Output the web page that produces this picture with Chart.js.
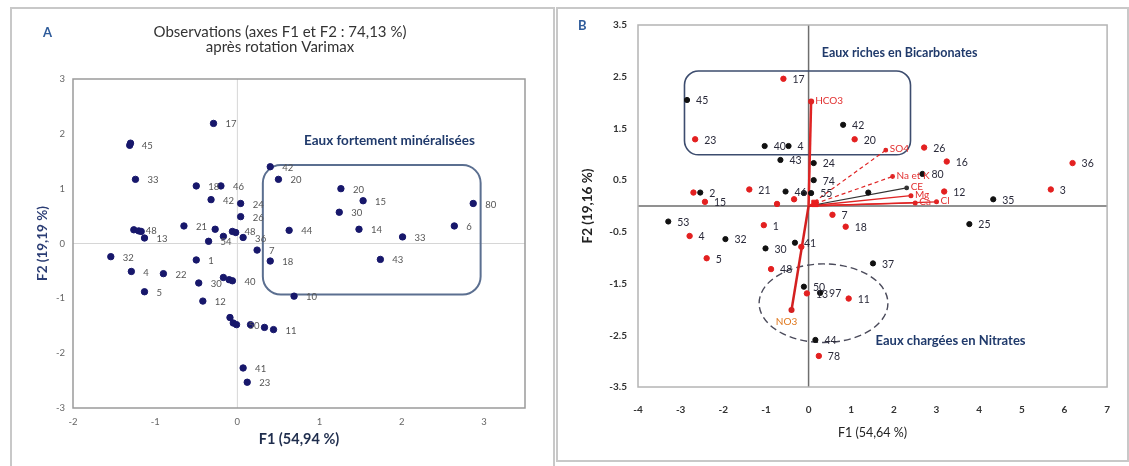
<!DOCTYPE html>
<html><head><meta charset="utf-8">
<script src="https://cdn.jsdelivr.net/npm/chart.js@4"></script>
<style>
html,body{margin:0;padding:0;background:#fff;}
body{width:1129px;height:466px;position:relative;overflow:hidden;font-family:Lato,sans-serif;}
.panel{position:absolute;border:2px solid #c8c8c8;box-sizing:border-box;}
#pA{left:10px;top:7px;width:545px;height:462px;}
#pB{left:556px;top:7px;width:573px;height:455px;}
canvas{position:absolute;}
#cA{left:11px;top:8px;}
#cB{left:557px;top:8px;}
.tag{position:absolute;font:bold 13px Lato,sans-serif;color:#2e5b9a;line-height:14px;}
</style></head>
<body>
<div class="panel" id="pA"></div>
<div class="panel" id="pB"></div>
<canvas id="cA" width="542" height="457"></canvas>
<canvas id="cB" width="570" height="452"></canvas>
<div class="tag" style="left:43px;top:25px;">A</div>
<div class="tag" style="left:578px;top:18px;">B</div>
<script>
// ---------- Panel A : observations after Varimax rotation ----------
const leftLabels = ['17','45','','33','18','46','42','24','26','21','48','','','13','','54','','48','','36','7','42','20','44','18','10','20','15','30','14','33','43','6','80','32','4','22','5','1','30','','','40','12','','','50','','','11','41','23'];
const leftF1 = [-0.29,-1.31,-1.30,-1.24,-0.50,-0.20,-0.32,0.04,0.04,-0.65,-1.26,-1.20,-1.17,-1.13,-0.27,-0.35,-0.17,-0.06,-0.02,0.07,0.24,0.40,0.50,0.63,0.40,0.69,1.26,1.53,1.24,1.48,2.01,1.74,2.64,2.87,-1.54,-1.29,-0.90,-1.13,-0.50,-0.47,-0.17,-0.10,-0.06,-0.42,-0.09,-0.05,-0.01,0.16,0.33,0.44,0.07,0.12];
const leftF2 = [2.19,1.79,1.83,1.17,1.05,1.05,0.80,0.73,0.49,0.32,0.25,0.23,0.22,0.10,0.26,0.04,0.13,0.22,0.20,0.11,-0.12,1.40,1.17,0.24,-0.32,-0.96,1.00,0.78,0.57,0.26,0.12,-0.29,0.32,0.73,-0.24,-0.51,-0.55,-0.88,-0.30,-0.72,-0.62,-0.66,-0.68,-1.05,-1.35,-1.45,-1.48,-1.48,-1.53,-1.57,-2.27,-2.53];
const leftXTicks = [-2,-1,0,1,2,3];
const leftYTicks = [-3,-2,-1,0,1,2,3];

// ---------- Panel B : observations + variables ----------
const blackLabels = ['45','40','4','43','42','46','','55','74','24','2','53','32','30','41','80','','35','25','37','50','97','44'];
const blackF1 = [-2.85,-1.03,-0.47,-0.66,0.81,-0.54,-0.11,0.06,0.12,0.12,-2.54,-3.29,-1.95,-1.01,-0.32,2.67,1.40,4.33,3.77,1.51,-0.11,0.27,0.16];
const blackF2 = [2.05,1.16,1.16,0.89,1.57,0.28,0.25,0.25,0.50,0.83,0.26,-0.30,-0.64,-0.82,-0.71,0.62,0.26,0.13,-0.35,-1.11,-1.56,-1.68,-2.59];
const redLabels = ['17','23','20','26','16','36','3','12','21','','15','','','7','18','1','4','5','48','','13','11','78'];
const redF1 = [-0.59,-2.66,1.08,2.71,3.24,6.19,5.68,3.18,-1.39,-2.70,-2.43,-0.74,-0.34,0.56,0.87,-1.05,-2.79,-2.39,-0.88,-0.17,-0.04,0.94,0.24];
const redF2 = [2.46,1.29,1.29,1.13,0.86,0.83,0.32,0.28,0.32,0.26,0.08,0.04,0.13,-0.17,-0.40,-0.37,-0.58,-1.01,-1.22,-0.79,-1.69,-1.79,-2.90];
const varNames = ['HCO3','SO4','Na et K','CE','Mg','Ca','Cl','NO3'];
const varF1 = [0.06,1.81,1.97,2.30,2.40,2.50,3.00,-0.40];
const varF2 = [2.02,1.08,0.57,0.35,0.20,0.06,0.08,-2.01];
const originF1 = [0.15];
const originF2 = [0.05];
const rightXTicks = [-4,-3,-2,-1,0,1,2,3,4,5,6,7];
const rightYTicks = [-3.5,-2.5,-1.5,-0.5,0.5,1.5,2.5,3.5];

const FONT = 'Lato';
const pts = (xs, ys) => xs.map((v, i) => ({x: v, y: ys[i]}));
const fixTicks = arr => s => { s.ticks = arr.map(v => ({value: v})); };

const annot = {
  id: 'annot',
  beforeDatasetsDraw(chart, args, o) {
    const {ctx, chartArea: a, scales: {x, y}} = chart;
    ctx.save();
    ctx.strokeStyle = o.zeroColor; ctx.lineWidth = o.zeroWidth;
    const x0 = x.getPixelForValue(0), y0 = y.getPixelForValue(0);
    ctx.beginPath(); ctx.moveTo(x0, a.top); ctx.lineTo(x0, a.bottom);
    ctx.moveTo(a.left, y0); ctx.lineTo(a.right, y0); ctx.stroke();
    ctx.strokeStyle = o.frameColor; ctx.lineWidth = o.frameWidth;
    ctx.strokeRect(a.left, a.top, a.right - a.left, a.bottom - a.top);
    (o.boxes || []).forEach(b => {
      const x1 = x.getPixelForValue(b.x1), x2 = x.getPixelForValue(b.x2);
      const y1 = y.getPixelForValue(b.y1), y2 = y.getPixelForValue(b.y2);
      ctx.beginPath(); ctx.strokeStyle = b.color; ctx.lineWidth = b.width; ctx.setLineDash(b.dash || []);
      ctx.roundRect(Math.min(x1, x2), Math.min(y1, y2), Math.abs(x2 - x1), Math.abs(y2 - y1), b.radius);
      ctx.stroke();
    });
    (o.ellipses || []).forEach(e => {
      const cx = x.getPixelForValue(e.cx), cy = y.getPixelForValue(e.cy);
      const rx = Math.abs(x.getPixelForValue(e.cx + e.rx) - cx), ry = Math.abs(y.getPixelForValue(e.cy + e.ry) - cy);
      ctx.beginPath(); ctx.strokeStyle = e.color; ctx.lineWidth = e.width; ctx.setLineDash(e.dash || []);
      ctx.ellipse(cx, cy, rx, ry, 0, 0, Math.PI * 2); ctx.stroke();
    });
    ctx.restore();
  },
  afterDatasetsDraw(chart, args, o) {
    const {ctx, scales: {x, y}} = chart;
    ctx.save();
    chart.data.datasets.forEach((ds, i) => {
      const meta = chart.getDatasetMeta(i);
      if (ds.pointLabels) {
        ctx.font = o.labelFont; ctx.fillStyle = o.labelColor;
        ctx.textAlign = 'left'; ctx.textBaseline = 'middle';
        meta.data.forEach((el, j) => { const t = ds.pointLabels[j]; if (t) ctx.fillText(t, el.x + o.labelDx, el.y + 1); });
      }
      if (ds.endLabel) {
        const el = meta.data[1];
        ctx.font = o.varFont; ctx.fillStyle = ds.endLabelColor;
        ctx.textBaseline = 'middle';
        if (el.y > y.getPixelForValue(0)) { ctx.textAlign = 'center'; ctx.fillText(ds.endLabel, el.x - 5, el.y + 12); }
        else { ctx.textAlign = 'left'; ctx.fillText(ds.endLabel, el.x + 4, el.y - 1); }
      }
    });
    (o.texts || []).forEach(t => {
      ctx.font = t.font; ctx.fillStyle = t.color; ctx.textAlign = t.align; ctx.textBaseline = 'middle';
      ctx.fillText(t.text, x.getPixelForValue(t.x), y.getPixelForValue(t.y));
    });
    ctx.restore();
  }
};

// ---------- Chart A ----------
new Chart(document.getElementById('cA'), {
  type: 'scatter',
  data: { datasets: [{
    data: pts(leftF1, leftF2), pointLabels: leftLabels,
    backgroundColor: '#17176b', borderColor: '#17176b', pointRadius: 3.2, pointHoverRadius: 3.2
  }]},
  options: {
    responsive: false, animation: false, events: [],
    layout: { padding: { left: 24, right: 28, top: 0, bottom: 17 } },
    plugins: {
      legend: { display: false }, tooltip: { enabled: false },
      title: { display: true, text: ['Observations (axes F1 et F2 : 74,13 %)', 'après rotation Varimax'],
        font: { family: FONT, size: 15, weight: 'normal', lineHeight: 1 }, color: '#333', padding: { top: 16.5, bottom: 24.5 } },
      annot: {
        zeroColor: '#d6d6d6', zeroWidth: 1, frameColor: '#9a9a9a', frameWidth: 1.5,
        labelFont: '9.5px ' + FONT, labelColor: '#555', labelDx: 12, varFont: '9px ' + FONT,
        boxes: [{ x1: 0.31, x2: 2.96, y1: 1.43, y2: -0.93, color: '#5b6f90', width: 2, radius: 18 }],
        texts: [{ text: 'Eaux fortement minéralisées', x: 1.85, y: 1.87, align: 'center', font: 'bold 13.5px ' + FONT, color: '#203a6b' }]
      }
    },
    scales: {
      x: { type: 'linear', min: -2, max: 3.5, afterBuildTicks: fixTicks(leftXTicks), afterFit: s => { s.height = 40; },
        grid: { display: false, drawTicks: false }, border: { display: false },
        ticks: { padding: 8, font: { family: FONT, size: 9.5 }, color: '#666', maxRotation: 0, autoSkip: false },
        title: { display: true, text: 'F1 (54,94 %)', font: { family: FONT, size: 14.5, weight: 'bold' }, color: '#1f2d4d', padding: 0 } },
      y: { type: 'linear', min: -3, max: 3, afterBuildTicks: fixTicks(leftYTicks), afterFit: s => { s.width = 38; },
        grid: { display: false, drawTicks: false }, border: { display: false },
        ticks: { padding: 8, font: { family: FONT, size: 9.5 }, color: '#666', autoSkip: false },
        title: { display: true, text: 'F2 (19,19 %)', font: { family: FONT, size: 13.5, weight: 'bold' }, color: '#2c3e75', padding: 0 } }
    }
  },
  plugins: [annot]
});

// ---------- Chart B ----------
const vecStyle = [
  { c: '#e02424', w: 2.5, d: [] }, { c: '#e02424', w: 1.2, d: [4, 3] }, { c: '#e02424', w: 1.2, d: [4, 3] },
  { c: '#333333', w: 1.2, d: [] }, { c: '#e02424', w: 1.4, d: [] }, { c: '#e02424', w: 1.4, d: [] },
  { c: '#e02424', w: 1.4, d: [] }, { c: '#d42020', w: 2.5, d: [] }
];
const vecSets = varNames.map((n, i) => ({
  data: [{ x: 0, y: 0 }, { x: varF1[i], y: varF2[i] }], showLine: true,
  borderColor: vecStyle[i].c, borderWidth: vecStyle[i].w, borderDash: vecStyle[i].d,
  backgroundColor: vecStyle[i].c, pointRadius: [0, 1.8], pointHoverRadius: 0,
  endLabel: n, endLabelColor: n === 'NO3' ? '#e0781e' : '#e23030'
}));

new Chart(document.getElementById('cB'), {
  type: 'scatter',
  data: { datasets: [
    { data: pts(originF1, originF2), pointStyle: 'rect', pointRadius: 4.5, backgroundColor: '#e81c1c', borderColor: '#e81c1c' },
    { data: pts(blackF1, blackF2), pointLabels: blackLabels, backgroundColor: '#111', borderColor: '#111', pointRadius: 2.6, pointHoverRadius: 2.6 },
    { data: pts(redF1, redF2), pointLabels: redLabels, backgroundColor: '#e32020', borderColor: '#e32020', pointRadius: 2.7, pointHoverRadius: 2.7 },
    ...vecSets
  ]},
  options: {
    responsive: false, animation: false, events: [],
    layout: { padding: { left: 23, right: 12, top: 17, bottom: 20 } },
    plugins: {
      legend: { display: false }, tooltip: { enabled: false },
      annot: {
        zeroColor: '#6e6e6e', zeroWidth: 1.5, frameColor: '#b4b4b4', frameWidth: 1.5,
        labelFont: '10.5px ' + FONT, labelColor: '#2a2a3a', labelDx: 9, varFont: '10px ' + FONT,
        boxes: [{ x1: -2.91, x2: 2.39, y1: 2.61, y2: 0.99, color: '#3c4c6e', width: 1.6, radius: 14 }],
        ellipses: [{ cx: 0.35, cy: -1.88, rx: 1.51, ry: 0.76, color: '#4a4a5a', width: 1.4, dash: [7, 4] }],
        texts: [
          { text: 'Eaux riches en Bicarbonates', x: 0.31, y: 2.96, align: 'left', font: 'bold 12.5px ' + FONT, color: '#203a6b' },
          { text: 'Eaux chargées en Nitrates', x: 1.57, y: -2.6, align: 'left', font: 'bold 13px ' + FONT, color: '#203a6b' }
        ]
      }
    },
    scales: {
      x: { type: 'linear', min: -4, max: 7, afterBuildTicks: fixTicks(rightXTicks), afterFit: s => { s.height = 53; },
        grid: { display: false, drawTicks: false }, border: { display: false },
        ticks: { padding: 17, font: { family: FONT, size: 10, weight: 'bold' }, color: '#333', maxRotation: 0, autoSkip: false },
        title: { display: true, text: 'F1 (54,64 %)', font: { family: FONT, size: 12.5 }, color: '#222', padding: 0 } },
      y: { type: 'linear', min: -3.5, max: 3.5, afterBuildTicks: fixTicks(rightYTicks), afterFit: s => { s.width = 58; },
        grid: { display: false, drawTicks: false }, border: { display: false },
        ticks: { padding: 11, font: { family: FONT, size: 10, weight: 'bold' }, color: '#333', autoSkip: false,
          callback: v => v.toFixed(1) },
        title: { display: true, text: 'F2 (19,16 %)', font: { family: FONT, size: 13.5, weight: 'bold' }, color: '#222', padding: 0 } }
    }
  },
  plugins: [annot]
});
</script>
</body></html>
